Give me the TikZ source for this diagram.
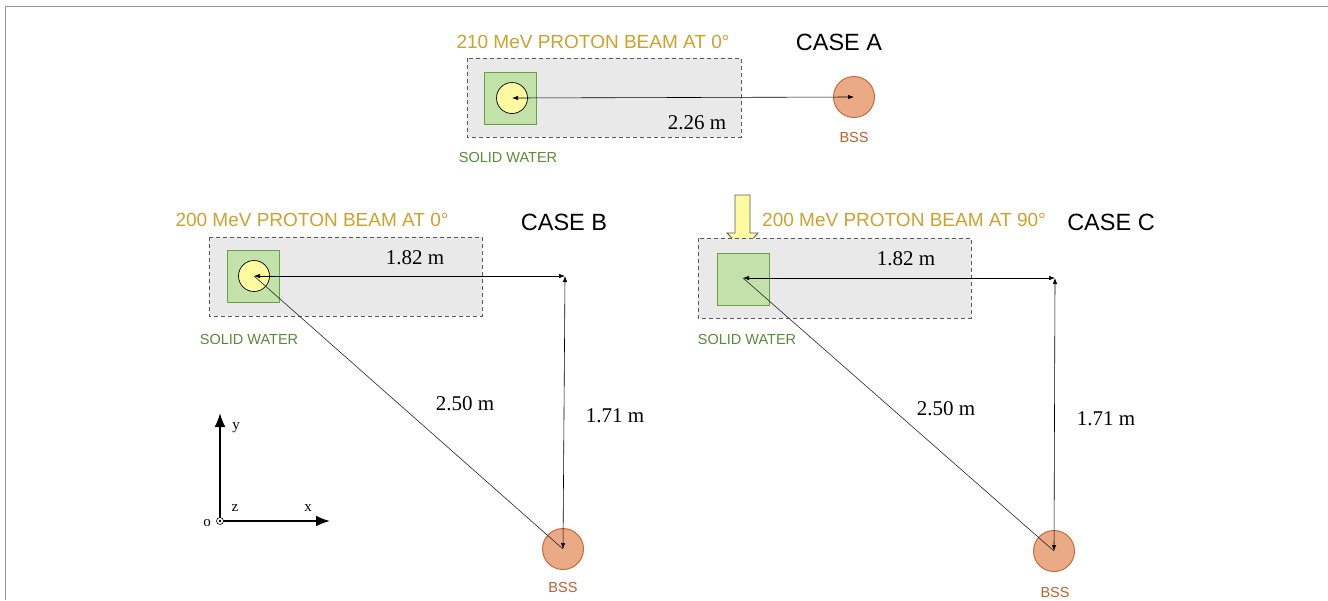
\documentclass[tikz,border=0pt]{standalone}
\usepackage{fontspec}
\setmainfont{Liberation Serif}
\newfontfamily\labelfont{Liberation Sans}
\usetikzlibrary{arrows.meta}

\definecolor{beamgold}{RGB}{206,160,44}
\definecolor{watertext}{RGB}{88,138,56}
\definecolor{waterfill}{RGB}{194,226,170}
\definecolor{waterdraw}{RGB}{104,160,72}
\definecolor{bssfill}{RGB}{234,170,134}
\definecolor{bssdraw}{RGB}{200,106,58}
\definecolor{bsstext}{RGB}{196,92,42}
\definecolor{targetfill}{RGB}{255,250,160}
\definecolor{roomfill}{RGB}{233,233,233}
\definecolor{roomdraw}{RGB}{90,90,90}
\definecolor{framegrey}{RGB}{150,150,160}

\tikzset{
  room/.style={draw=roomdraw, fill=roomfill, dash pattern=on 4pt off 3pt, line width=0.7pt},
  phantom/.style={draw=waterdraw, fill=waterfill, line width=0.7pt, minimum size=52pt, inner sep=0pt},
  target/.style={circle, draw=black, fill=targetfill, line width=0.7pt, minimum size=31pt, inner sep=0pt},
  detector/.style={circle, draw=bssdraw, fill=bssfill, line width=1pt, minimum size=41pt, inner sep=0pt},
  beamtitle/.style={text=beamgold, font=\labelfont\fontsize{19}{22}\selectfont, inner sep=0pt},
  casetitle/.style={text=black, font=\labelfont\fontsize{23.5}{26}\selectfont, inner sep=0pt},
  watertag/.style={text=watertext, font=\labelfont\fontsize{14.5}{17}\selectfont, inner sep=0pt},
  bsstag/.style={text=bsstext, font=\labelfont\fontsize{14.5}{17}\selectfont, inner sep=0pt},
  measure/.style={text=black, font=\fontsize{21}{24}\selectfont, inner sep=0pt},
  axislabel/.style={text=black, font=\fontsize{15}{17}\selectfont, inner sep=0pt},
  dim/.style={draw=black, line width=0.6pt, {Latex[length=6pt,width=4.5pt]}-{Latex[length=6pt,width=4.5pt]}},
  ray/.style={draw=black!85, line width=0.6pt},
  axis/.style={draw=black, line width=2pt, -{Latex[length=14pt,width=11pt]}},
  beamarrow/.style={draw=black!65, fill=targetfill, line width=0.9pt},
}

\begin{document}
\begin{tikzpicture}[x=1pt, y=-1pt]
\useasboundingbox (0,0) rectangle (1328,600);

% outer frame (top and left edges)
\draw[framegrey, line width=1pt] (5,600) -- (5,6) -- (1328,6);

% ---------------- CASE A ----------------
\node[beamtitle] (titleA) at (593,42) {210 MeV PROTON BEAM AT 0°};
\node[casetitle] (caseA) at (839,42) {CASE A};
\draw[room] (467,58) rectangle (741,137);
\node[phantom] (waterA) at (510,98) {};
\node[target] (tgtA) at (512,98) {};
\node[detector] (bssA) at (854,97) {};
\node[bsstag] (bsslabA) at (854,138) {BSS};
\node[watertag] (waterlabA) at (508,158) {SOLID WATER};
\node[measure] (dA) at (697,123) {2.26 m};
\draw[dim] (tgtA.center) -- (bssA.center);

% ---------------- CASE B ----------------
\node[beamtitle] (titleB) at (312,220) {200 MeV PROTON BEAM AT 0°};
\node[casetitle] (caseB) at (564,222) {CASE B};
\draw[room] (209,237) rectangle (482,316);
\node[phantom] (waterB) at (253,276) {};
\node[target] (tgtB) at (254,276) {};
\node[detector] (bssB) at (563,549) {};
\coordinate (cornerB) at (565,276);
\node[bsstag] (bsslabB) at (563,587) {BSS};
\node[watertag] (waterlabB) at (249,340) {SOLID WATER};
\node[measure] (hB) at (415,258) {1.82 m};
\node[measure] (rB) at (465,404) {2.50 m};
\node[measure] (vB) at (615,416) {1.71 m};
\draw[dim] (tgtB.center) -- (cornerB);
\draw[dim] (bssB.center) -- (cornerB);
\draw[ray] (tgtB.center) -- (bssB.center);

% ---------------- CASE C ----------------
\draw[beamarrow]
  (735,195) -- (750,195) -- (750,233) -- (758,233) -- (743,250)
  -- (727,233) -- (735,233) -- cycle;
\node[beamtitle] (titleC) at (904,220) {200 MeV PROTON BEAM AT 90°};
\node[casetitle] (caseC) at (1111,222) {CASE C};
\draw[room] (698,238) rectangle (971,318);
\node[phantom] (waterC) at (743.5,279) {};
\coordinate (tgtC) at (743,278);
\node[detector] (bssC) at (1054,551) {};
\coordinate (cornerC) at (1055,278);
\node[bsstag] (bsslabC) at (1055,592) {BSS};
\node[watertag] (waterlabC) at (747,340) {SOLID WATER};
\node[measure] (hC) at (906,259) {1.82 m};
\node[measure] (rC) at (946,409) {2.50 m};
\node[measure] (vC) at (1106,419) {1.71 m};
\draw[dim] (tgtC) -- (cornerC);
\draw[dim] (bssC.center) -- (cornerC);
\draw[ray] (tgtC) -- (bssC.center);

% ---------------- axes ----------------
\coordinate (origin) at (220,521);
\coordinate (ytip) at (220,413);
\coordinate (xtip) at (330,521);
\draw[axis] (origin) -- (ytip);
\draw[axis] (origin) -- (xtip);
\draw[black, line width=0.6pt, fill=white] (origin) circle (3.5pt);
\fill[black] (origin) circle (1.3pt);
\node[axislabel] (ylab) at (236,428) {y};
\node[axislabel] (zlab) at (235,508) {z};
\node[axislabel] (xlab) at (308,508) {x};
\node[axislabel] (olab) at (207,523) {o};
\end{tikzpicture}
\end{document}
